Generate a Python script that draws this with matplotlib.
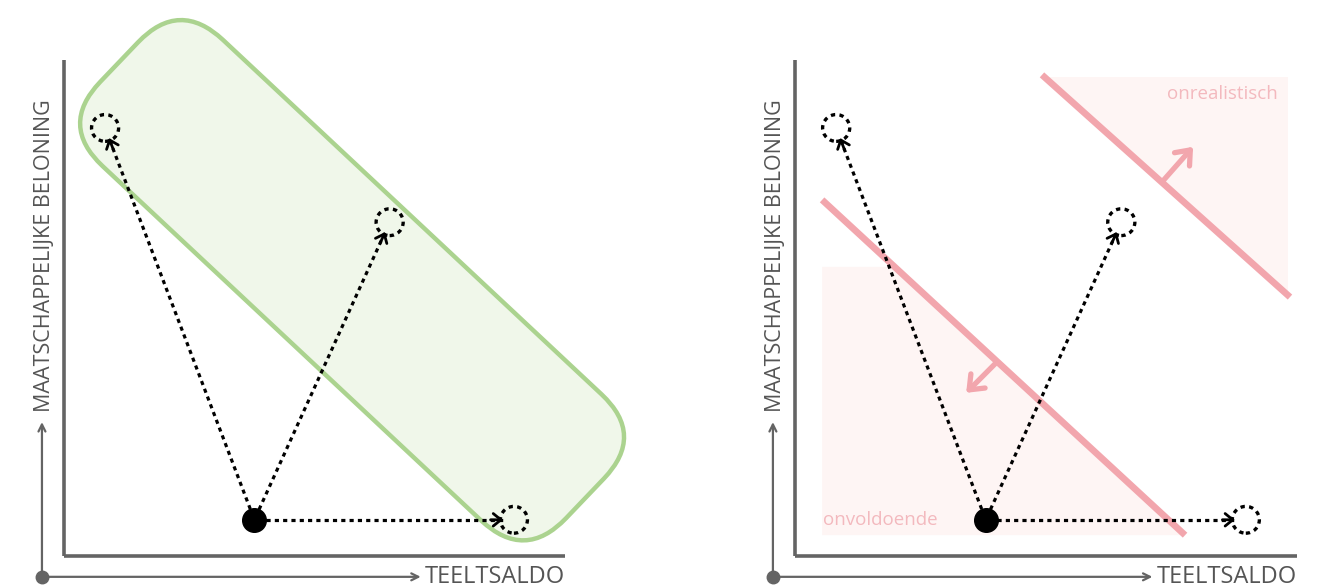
import numpy as np
import matplotlib.pyplot as plt
from matplotlib.patches import Circle, FancyBboxPatch
from matplotlib.transforms import Affine2D

plt.rcParams['font.family'] = ['Open Sans', 'DejaVu Sans']

# positions in the diagram (0-100 on both axes)
start_x, start_y = 38, 7.3
targets_x = [8.2, 65, 89.8]
targets_y = [86.3, 67.3, 7.3]
x_label = 'TEELTSALDO'
y_label = 'MAATSCHAPPELIJKE BELONING'

# green band (left panel)
band_center = (57.5, 55.6)
band_length = 128
band_width = 35
band_angle = -43.4

# pink boundary lines (right panel)
low_line_x = [5.4, 77.7]
low_line_y = [71.8, 4.2]
high_line_x = [49.2, 98.6]
high_line_y = [97.0, 52.2]
low_label = 'onvoldoende'
high_label = 'onrealistisch'

GRAY = '#646464'
TXT = '#555555'
PINK = '#f2a6ad'
PINK_TXT = '#f3b9be'
PINK_FILL = '#fef5f4'
DOTS = (0, (1.3, 1.3))

fig = plt.figure(figsize=(13.23, 5.88), dpi=100)
ax1 = fig.add_axes([64 / 1323, 32 / 588, 501 / 1323, 496 / 588])
ax2 = fig.add_axes([795 / 1323, 32 / 588, 502 / 1323, 496 / 588])


def draw_frame(ax):
    ax.set_xlim(0, 100)
    ax.set_ylim(0, 100)
    ax.axis('off')
    # inner axes
    ax.plot([0, 0], [0, 100], color=GRAY, lw=2.6, clip_on=False, solid_capstyle='butt')
    ax.plot([0, 100], [0, 0], color=GRAY, lw=2.6, clip_on=False, solid_capstyle='butt')
    # outer axes with arrows
    ox, oy = -4.4, -4.2
    ax.plot([ox], [oy], 'o', color=GRAY, ms=9, clip_on=False)
    ax.annotate('', xy=(71.2, oy), xytext=(ox, oy), annotation_clip=False,
                arrowprops=dict(arrowstyle='->,head_length=0.5,head_width=0.25',
                                color=GRAY, lw=1.6, shrinkA=0, shrinkB=0))
    ax.annotate('', xy=(ox, 27), xytext=(ox, oy), annotation_clip=False,
                arrowprops=dict(arrowstyle='->,head_length=0.5,head_width=0.25',
                                color=GRAY, lw=1.6, shrinkA=0, shrinkB=0))
    ax.text(100, oy, x_label, ha='right', va='center', fontsize=17, color=TXT,
            clip_on=False)
    ax.text(-3.9, 29, y_label, rotation=90, ha='center', va='bottom', fontsize=15.5,
            color=TXT, clip_on=False)


def draw_moves(ax):
    r_dot = 2.3
    r_circ = 2.7
    for tx, ty in zip(targets_x, targets_y):
        d = np.array([tx - start_x, ty - start_y])
        d = d / np.hypot(*d)
        p0 = np.array([start_x, start_y]) + d * r_dot
        tip = np.array([tx, ty]) - d * r_circ * 0.8
        ax.plot([p0[0], tip[0]], [p0[1], tip[1]], color='black', lw=2.3,
                linestyle=DOTS, dash_capstyle='butt', zorder=4, clip_on=False)
        ax.annotate('', xy=tip, xytext=tip - d * 2.5, annotation_clip=False, zorder=5,
                    arrowprops=dict(arrowstyle='->,head_length=0.55,head_width=0.45',
                                    color='black', lw=2, shrinkA=0, shrinkB=0))
        ax.add_patch(Circle((tx, ty), r_circ, fill=False, ec='black', lw=2.4,
                            linestyle=DOTS, zorder=4, clip_on=False))
    ax.plot([start_x], [start_y], 'o', color='black', ms=17, zorder=6, clip_on=False)


# left panel
draw_frame(ax1)
cx, cy = band_center
band = FancyBboxPatch((cx - band_length / 2, cy - band_width / 2), band_length, band_width,
                      boxstyle='round,pad=0,rounding_size=12', fc='#f0f7ea', ec='#abd38f',
                      lw=3.2, zorder=1, clip_on=False)
band.set_transform(Affine2D().rotate_deg_around(cx, cy, band_angle) + ax1.transData)
ax1.add_patch(band)
draw_moves(ax1)

# right panel
draw_frame(ax2)
low_top = 58.3
x_at_top = np.interp(low_top, low_line_y[::-1], low_line_x[::-1])
ax2.fill([low_line_x[0], low_line_x[0], x_at_top, low_line_x[1], low_line_x[1]],
         [low_line_y[1], low_top, low_top, low_line_y[1], low_line_y[1]],
         color=PINK_FILL, lw=0, zorder=0)
high_top = 96.6
x_hi = np.interp(high_top, high_line_y[::-1], high_line_x[::-1])
ax2.fill([x_hi, 98.2, 98.2], [high_top, high_top, np.interp(98.2, high_line_x, high_line_y)],
         color=PINK_FILL, lw=0, zorder=0, clip_on=False)

ax2.plot(low_line_x, low_line_y, color=PINK, lw=4.8, solid_capstyle='butt', zorder=3,
         clip_on=False)
ax2.plot(high_line_x, high_line_y, color=PINK, lw=4.8, solid_capstyle='butt', zorder=3,
         clip_on=False)
ax2.annotate('', xy=(34.1, 32.9), xytext=(40.2, 39.1), zorder=3,
             arrowprops=dict(arrowstyle='->,head_length=0.5,head_width=0.4',
                             color=PINK, lw=3.8, shrinkA=0, shrinkB=0, mutation_scale=18))
ax2.annotate('', xy=(79.3, 82.5), xytext=(73.1, 75.4), zorder=3,
             arrowprops=dict(arrowstyle='->,head_length=0.5,head_width=0.4',
                             color=PINK, lw=3.8, shrinkA=0, shrinkB=0, mutation_scale=18))
ax2.text(96.2, 93.2, high_label, ha='right', va='center', fontsize=13.5, color=PINK_TXT)
ax2.text(5.6, 7.3, low_label, ha='left', va='center', fontsize=13.5, color=PINK_TXT)
draw_moves(ax2)

fig.savefig('out.png', dpi=100)
